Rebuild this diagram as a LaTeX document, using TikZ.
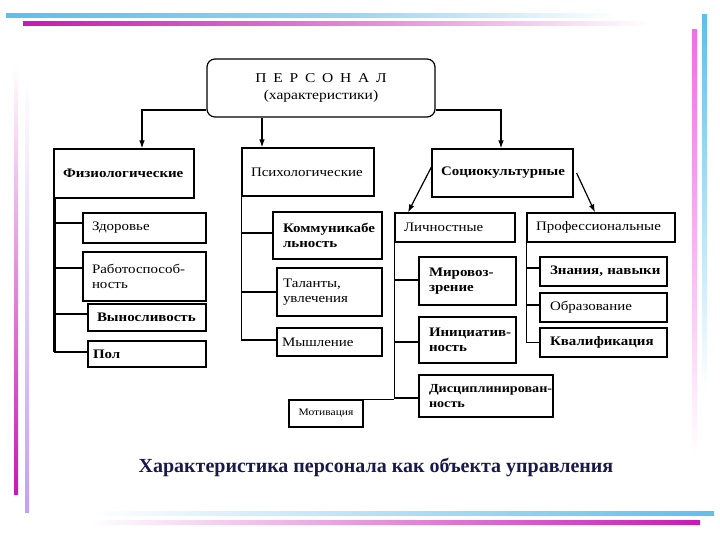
\documentclass[tikz,border=0pt]{standalone}
\usepackage{fontspec}
\setmainfont{Liberation Serif}
\newfontfamily\boxfont[FakeStretch=1.15]{Liberation Serif}
\usetikzlibrary{arrows.meta}
\definecolor{barblue}{RGB}{95,190,235}
\definecolor{barmag}{RGB}{200,25,180}
\definecolor{barpink}{RGB}{240,110,228}
\definecolor{barlav}{RGB}{195,160,240}
\definecolor{capcol}{RGB}{25,25,75}
\begin{document}
\begin{tikzpicture}[x=1pt,y=-1pt,
  box/.style={draw, line width=1.2pt, inner xsep=9pt, inner ysep=0pt, align=left,
    font={\boxfont\fontsize{13}{15}\selectfont}},
  conn/.style={line width=1.2pt},
  trunk/.style={line width=2.6pt},
  arr/.style={line width=1.2pt, -{Latex[length=8pt,width=5.5pt]}},
]
\useasboundingbox (0,0) rectangle (720,540);
% decorative bars
\shade[left color=barblue, right color=barblue!65] (6,14) rectangle (350,18);
\shade[left color=barblue!65, right color=white] (350,14) rectangle (620,18);
\shade[left color=barmag, right color=barmag!45] (23,22) rectangle (400,26);
\shade[left color=barmag!45, right color=white] (400,22) rectangle (650,26);
\shade[top color=barpink, bottom color=barpink!50] (692,30) rectangle (697,250);
\shade[top color=barpink!50, bottom color=white] (692,250) rectangle (697,455);
\shade[top color=barblue, bottom color=white] (702,15) rectangle (707,390);
\shade[top color=white, bottom color=barmag] (14,65) rectangle (18,494);
\shade[top color=white, bottom color=barlav] (25,77) rectangle (29,512);
\shade[left color=white, right color=barblue] (90,511) rectangle (714,515);
\shade[left color=white, right color=barmag] (90,520) rectangle (700,524);

% main
\node[draw, line width=1.2pt, rounded corners=8pt, minimum width=228pt, minimum height=58pt,
  align=center, font={\boxfont\fontsize{13.5}{17}\selectfont}] (main) at (321,88)
  {{\addfontfeature{LetterSpace=50}ПЕРСОНАЛ}\\(характеристики)};

% level 1
\node[box, text width=122pt, minimum height=49pt] (fiz) at (124,173.5) {\mbox{\bfseries Физиологические}};
\node[box, text width=114pt, minimum height=48pt] (psi) at (308,172) {\mbox{Психологические}};
\node[box, text width=123pt, minimum height=48pt] (soc) at (502.5,173) {\mbox{\bfseries Социокультурные}};

% physiological
\node[box, text width=105pt, minimum height=30pt] (zdor) at (144.5,228) {\mbox{Здоровье}};
\node[box, text width=105pt, minimum height=49pt] (rab) at (144.5,276.5) {\mbox{Работоспособ-}\\\mbox{ность}};
\node[box, text width=100pt, minimum height=27pt] (vyn) at (147,317.5) {\mbox{\bfseries Выносливость}};
\node[box, inner xsep=5pt, text width=108pt, minimum height=26pt] (pol) at (147,354) {\mbox{\bfseries Пол}};

% psychological
\node[box, inner xsep=10pt, text width=89pt, minimum height=47pt] (kom) at (327.5,235.5) {\mbox{\bfseries Коммуникабе}\\\mbox{\bfseries льность}};
\node[box, inner xsep=6pt, text width=93pt, minimum height=48pt] (tal) at (329.5,292) {\mbox{Таланты,}\\\mbox{увлечения}};
\node[box, inner xsep=5pt, text width=95pt, minimum height=28pt] (mysh) at (329.5,342) {\mbox{Мышление}};
\node[box, inner xsep=0pt, text width=74pt, minimum height=27pt, align=center,
  font={\boxfont\fontsize{10}{12}\selectfont}] (mot) at (326,413.5) {Мотивация};

% sociocultural
\node[box, text width=102pt, minimum height=29pt] (lich) at (455,227.5) {\mbox{Личностные}};
\node[box, text width=130pt, minimum height=29pt] (prof) at (601,227.5) {\mbox{Профессиональные}};
\node[box, inner xsep=10pt, text width=77pt, minimum height=48pt] (mir) at (467.5,281) {\mbox{\bfseries Мировоз-}\\\mbox{\bfseries зрение}};
\node[box, inner xsep=10pt, text width=77pt, minimum height=46pt] (ini) at (467.5,340) {\mbox{\bfseries Инициатив-}\\\mbox{\bfseries ность}};
\node[box, inner xsep=10pt, text width=114pt, minimum height=42pt,
  font={\boxfont\fontsize{12.3}{15}\selectfont}] (dis) at (486,396) {\mbox{\bfseries Дисциплинирован-}\\\mbox{\bfseries ность}};
\node[box, inner xsep=10pt, text width=107pt, minimum height=29pt] (zn) at (603.5,271.5) {\mbox{\bfseries Знания, навыки}};
\node[box, inner xsep=10pt, text width=107pt, minimum height=29pt] (obr) at (603.5,307.5) {\mbox{Образование}};
\node[box, inner xsep=10pt, text width=107pt, minimum height=29pt] (kval) at (603.5,342.5) {\mbox{\bfseries Квалификация}};

% arrows from main
\draw[arr] ([yshift=-22pt]main.west) -| ([xshift=18pt]fiz.north);
\draw[arr] ([xshift=-59pt]main.south) -- ([xshift=-59pt]main.south |- psi.north);
\draw[arr] ([yshift=-22pt]main.east) -| ([xshift=-1.5pt]soc.north);
\draw[arr] ([yshift=6pt]soc.west) -- ([xshift=-47pt]lich.north);
\draw[arr] ([xshift=3pt]soc.east) -- ([xshift=-6pt]prof.north);

% physiological trunk
\draw[trunk] ([xshift=1pt]fiz.south west) -- ([xshift=1pt,yshift=2pt]fiz.south west |- pol.west);
\draw[conn] ([xshift=1pt,yshift=5pt]fiz.south west |- zdor.west) -- ([yshift=5pt]zdor.west);
\draw[conn] ([xshift=1pt,yshift=8.5pt]fiz.south west |- rab.west) -- ([yshift=8.5pt]rab.west);
\draw[conn] ([xshift=1pt,yshift=3.5pt]fiz.south west |- vyn.west) -- ([yshift=3.5pt]vyn.west);
\draw[conn] ([xshift=1pt,yshift=2pt]fiz.south west |- pol.west) -- ([yshift=2pt]pol.west);

% psychological trunk
\draw[conn] (psi.south west) -- ([yshift=2pt]psi.south west |- mysh.west) -- ([yshift=2pt]mysh.west);
\draw[conn] ([yshift=2.5pt]psi.south west |- kom.west) -- ([yshift=2.5pt]kom.west);
\draw[conn] (psi.south west |- tal.west) -- (tal.west);

% personal trunk
\draw[conn] (lich.south west) -- ([yshift=-2pt]lich.south west |- dis.west) -- ([yshift=-2pt]dis.west);
\draw[conn] ([yshift=1pt]lich.south west |- mir.west) -- ([yshift=1pt]mir.west);
\draw[conn] ([yshift=-2pt]lich.south west |- ini.west) -- ([yshift=-2pt]ini.west);
\draw[conn] (mot.north east) -- (mot.north east -| lich.south west);

% professional trunk
\draw[conn] (prof.south west) -- (prof.south west |- kval.west) -- (kval.west);
\draw[conn] ([yshift=3.5pt]prof.south west |- zn.west) -- ([yshift=3.5pt]zn.west);
\draw[conn] ([yshift=2.5pt]prof.south west |- obr.west) -- ([yshift=2.5pt]obr.west);

% caption
\node[font={\bfseries\fontsize{20}{24}\selectfont}, text=capcol] (cap) at (376,467)
  {Характеристика персонала как объекта управления};
\end{tikzpicture}
\end{document}
